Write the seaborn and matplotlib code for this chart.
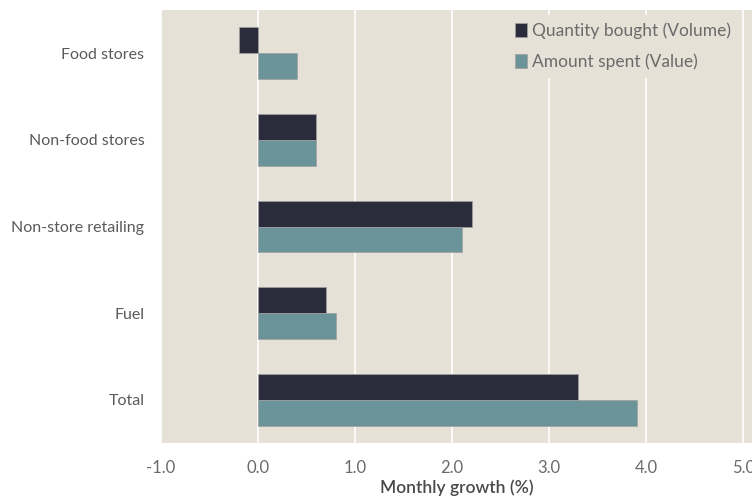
import matplotlib
matplotlib.use("Agg")
import matplotlib.pyplot as plt
import seaborn as sns
import pandas as pd

categories = ["Food stores", "Non-food stores", "Non-store retailing", "Fuel", "Total"]
volume = [-0.2, 0.6, 2.2, 0.7, 3.3]
value = [0.4, 0.6, 2.1, 0.8, 3.9]
series_names = ["Quantity bought (Volume)", "Amount spent (Value)"]
xticks = [-1.0, 0.0, 1.0, 2.0, 3.0, 4.0, 5.0]

df = pd.DataFrame({
    "Category": categories * 2,
    "Growth": volume + value,
    "Series": [series_names[0]] * len(categories) + [series_names[1]] * len(categories),
})

sns.set_style("white")
plt.rcParams["font.family"] = ["Lato", "DejaVu Sans"]

bg = "#e5e1d6"
fig = plt.figure(figsize=(7.52, 5.01), dpi=100)
ax = fig.add_axes([161 / 752, 1 - 443 / 501, (752 - 161) / 752, (443 - 10) / 501])
ax.set_facecolor(bg)

sns.barplot(data=df, y="Category", x="Growth", hue="Series", order=categories,
            hue_order=series_names, palette=["#272a3e", "#6399a2"], orient="h",
            width=0.6, ax=ax, edgecolor="#a0a0a0", linewidth=0.5, zorder=3)

ax.set_xlim(-1.0, 5.09)
ax.set_ylim(4.5, -0.5)
ax.set_xticks(xticks)
ax.set_xticklabels([f"{t:.1f}" for t in xticks])
ax.xaxis.grid(True, color="white", linewidth=1.2, zorder=0)
ax.set_axisbelow(True)
for s in ax.spines.values():
    s.set_visible(False)
ax.tick_params(axis="x", length=0, pad=12, labelsize=12, labelcolor="#6b6b6b")
ax.tick_params(axis="y", length=0, pad=12, labelsize=11.5, labelcolor="#5a5a5a")
ax.set_ylabel("")
ax.set_xlabel("Monthly growth (%)", fontsize=12.5, color="#4a4a4a", fontweight="semibold")
ax.xaxis.set_label_coords(0.5, -0.085)

leg = ax.legend(loc="upper right", frameon=True, fontsize=12.5, handlelength=0.7,
                handleheight=0.9, handletextpad=0.3, borderaxespad=0.3,
                labelspacing=0.85, bbox_to_anchor=(0.985, 1.0))
leg.get_frame().set_facecolor(bg)
leg.get_frame().set_edgecolor(bg)
leg.get_frame().set_alpha(1)
for t in leg.get_texts():
    t.set_color("#6b6b6b")

fig.savefig("out.png", dpi=100, facecolor="white")
